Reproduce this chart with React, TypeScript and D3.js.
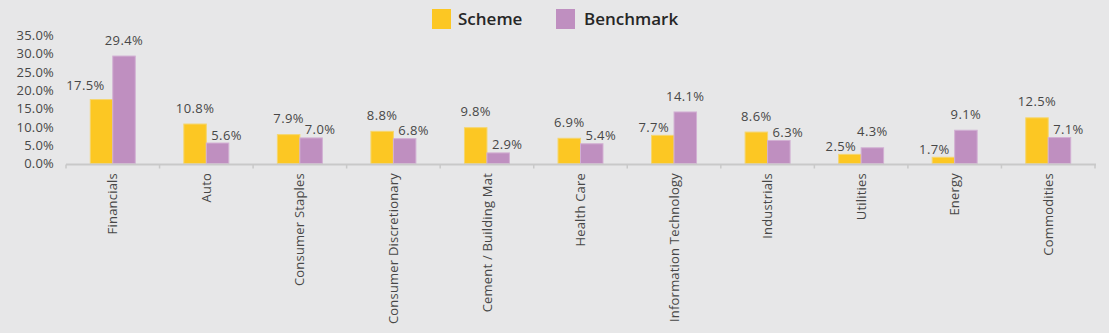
import React from "react";
import * as d3 from "d3";

const categories = [
  "Financials",
  "Auto",
  "Consumer Staples",
  "Consumer Discretionary",
  "Cement / Building Mat",
  "Health Care",
  "Information Technology",
  "Industrials",
  "Utilities",
  "Energy",
  "Commodities",
];
const schemeValues = [17.5, 10.8, 7.9, 8.8, 9.8, 6.9, 7.7, 8.6, 2.5, 1.7, 12.5];
const benchmarkValues = [29.4, 5.6, 7.0, 6.8, 2.9, 5.4, 14.1, 6.3, 4.3, 9.1, 7.1];
const seriesNames = ["Scheme", "Benchmark"];
const yTicks = [0, 5, 10, 15, 20, 25, 30, 35];

const W = 1109;
const H = 333;
const COLORS = ["#FCC723", "#BF8FC0"];
const BG = "#E7E7E8";
const TEXT = "#474747";
const FONT = "'Open Sans', 'Noto Sans', sans-serif";

export default function App() {
  const x0 = d3.scaleBand<string>().domain(categories).range([66, 1095]).paddingInner(0).paddingOuter(0);
  const x1 = d3
    .scaleBand<string>()
    .domain(seriesNames)
    .range([0, x0.bandwidth()])
    .paddingInner(0)
    .paddingOuter(1.08);
  const y = d3.scaleLinear().domain([0, 35]).range([163.5, 35.6]);
  const fmt = (v: number) => d3.format(".1f")(v) + "%";
  const axisY = 164.5;

  const labels: { x: number; y: number; text: string }[] = [];
  categories.forEach((c, i) => {
    const vals = [schemeValues[i], benchmarkValues[i]];
    const tallIdx = vals[0] >= vals[1] ? 0 : 1;
    const shortIdx = 1 - tallIdx;
    const bw = x1.bandwidth();
    const cx = (k: number) => (x0(c) as number) + (x1(seriesNames[k]) as number) + bw / 2;
    labels.push({ x: cx(tallIdx), y: y(vals[tallIdx]) - 16, text: fmt(vals[tallIdx]) });
    const dir = shortIdx === 0 ? -1 : 1;
    const gap = y(vals[shortIdx]) - y(vals[tallIdx]);
    let shift = 9;
    let up = 8;
    if (gap > 30) {
      shift = 16;
      up = 14;
    }
    labels.push({ x: cx(shortIdx) + dir * shift, y: y(vals[shortIdx]) - up, text: fmt(vals[shortIdx]) });
  });

  return (
    <svg
      width={W}
      height={H}
      style={{ position: "absolute", left: 0, top: 0, background: BG, fontFamily: FONT }}
    >
      <rect x={0} y={0} width={W} height={H} fill={BG} />
      {/* legend */}
      <g>
        <rect x={432} y={9} width={19} height={20} fill={COLORS[0]} />
        <text x={458} y={25} fontSize={17} fill="#262626" fontWeight={600}>
          {seriesNames[0]}
        </text>
        <rect x={556} y={9} width={19} height={20} fill={COLORS[1]} />
        <text x={584} y={25} fontSize={17} fill="#262626" fontWeight={600}>
          {seriesNames[1]}
        </text>
      </g>
      {/* y ticks */}
      {yTicks.map((t) => (
        <text
          key={t}
          x={54}
          y={y(t)}
          dy="0.35em"
          textAnchor="end"
          fontSize={13}
          letterSpacing={0.2}
          fill={TEXT}
        >
          {fmt(t)}
        </text>
      ))}
      {/* bars */}
      {categories.map((c, i) =>
        [schemeValues[i], benchmarkValues[i]].map((v, k) => (
          <rect
            key={c + k}
            x={(x0(c) as number) + (x1(seriesNames[k]) as number)}
            y={y(v)}
            width={x1.bandwidth()}
            height={y(0) - y(v)}
            fill={COLORS[k]}
            stroke={k === 0 ? "#F5D66E" : "#D2B0D3"}
            strokeWidth={1}
          />
        ))
      )}
      {/* x axis */}
      <line x1={66} x2={1096} y1={axisY} y2={axisY} stroke="#C9C9C9" strokeWidth={2} />
      {categories.concat([""]).map((c, i) => {
        const xx = 66 + i * x0.step();
        return <line key={"t" + i} x1={xx} x2={xx} y1={axisY} y2={axisY + 4} stroke="#C9C9C9" strokeWidth={1.5} />;
      })}
      {categories.map((c) => {
        const cx = (x0(c) as number) + x0.bandwidth() / 2;
        return (
          <text
            key={"c" + c}
            transform={`translate(${cx},173) rotate(-90)`}
            textAnchor="end"
            dy="0.35em"
            fontSize={13}
            letterSpacing={0.2}
            fill={TEXT}
          >
            {c}
          </text>
        );
      })}
      {/* data labels */}
      {labels.map((l, i) => (
        <text
          key={"l" + i}
          x={l.x}
          y={l.y}
          dy="0.35em"
          textAnchor="middle"
          fontSize={13}
          letterSpacing={0.4}
          fill={TEXT}
        >
          {l.text}
        </text>
      ))}
    </svg>
  );
}
